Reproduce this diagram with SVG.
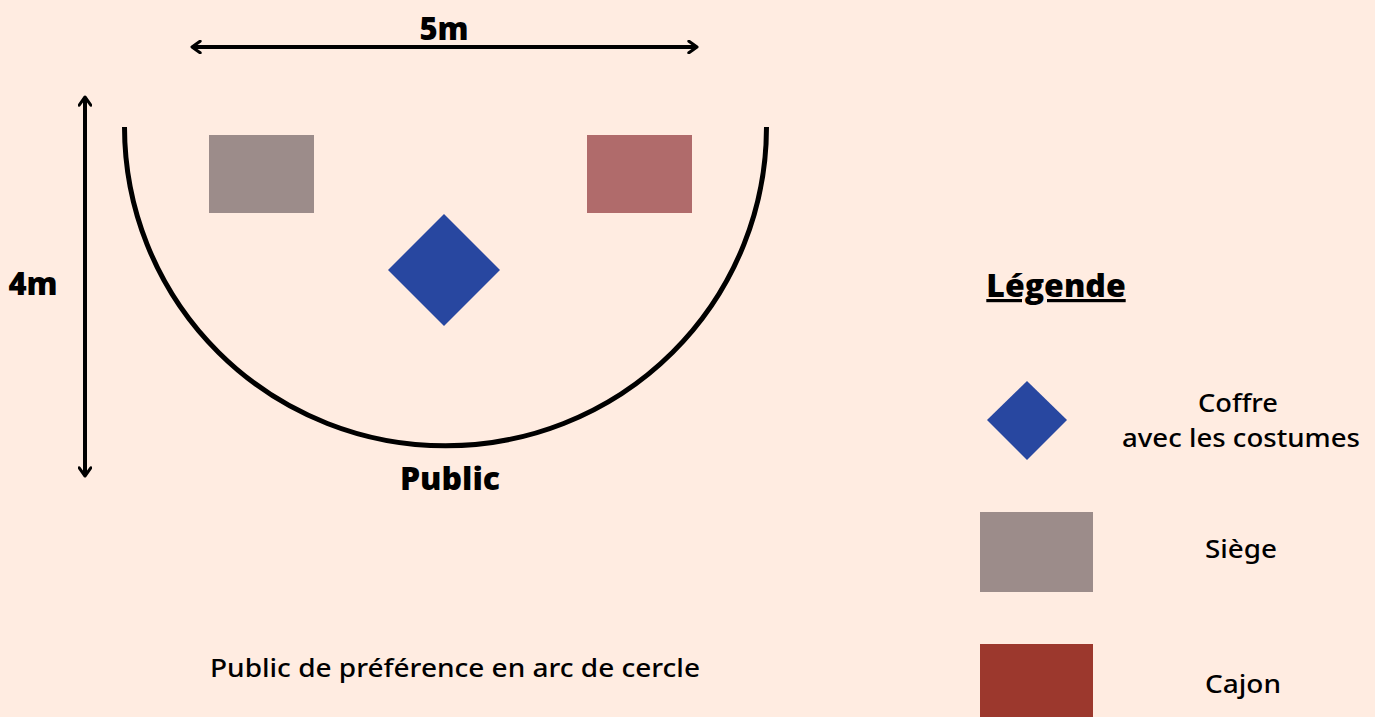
<svg xmlns="http://www.w3.org/2000/svg" width="1375" height="717" viewBox="0 0 1375 717">
<style>
.bold{font-family:"Open Sans","Noto Sans",sans-serif;font-weight:800;fill:#000}
.reg{font-family:"Noto Sans","Open Sans",sans-serif;font-weight:500;fill:#000;font-size:26px}
.dim{stroke:#000;stroke-width:4;fill:none}
</style>
<defs>
<marker id="ah" viewBox="0 0 12 12" refX="9" refY="6" markerWidth="3.5" markerHeight="3.5" orient="auto-start-reverse" markerUnits="strokeWidth">
<polyline points="2,1 9,6 2,11" fill="none" stroke="#000" stroke-width="2.6" stroke-linecap="round" stroke-linejoin="round"/>
</marker>
</defs>
<rect width="1375" height="717" fill="#FFECE1"/>
<g id="connectors">
<line class="dim" x1="192" y1="47" x2="697" y2="47" marker-start="url(#ah)" marker-end="url(#ah)"/>
<line class="dim" x1="85" y1="97" x2="85" y2="476" marker-start="url(#ah)" marker-end="url(#ah)"/>
</g>
<g id="scene">
<path d="M124.5,127 A321,319 0 0 0 766.5,127" fill="none" stroke="#000" stroke-width="5"/>
</g>
<g id="siege"><rect x="209" y="135" width="105" height="78" fill="#9C8C8A"/></g>
<g id="cajon"><rect x="587" y="135" width="105" height="78" fill="#B06B6B"/></g>
<g id="coffre"><polygon points="444,214 500,270 444,326 388,270" fill="#2847A0"/></g>
<g id="labels">
<text class="bold" x="444" y="40" font-size="31" text-anchor="middle">5m</text>
<text class="bold" x="33" y="295" font-size="31" text-anchor="middle">4m</text>
<text class="bold" x="450" y="490" font-size="32" text-anchor="middle">Public</text>
<text class="reg" x="455" y="677" text-anchor="middle" textLength="490" lengthAdjust="spacingAndGlyphs">Public de préférence en arc de cercle</text>
</g>
<g id="legend">
<text class="bold" x="1056" y="297" font-size="32" text-anchor="middle" text-decoration="underline">Légende</text>
<polygon points="1027,381 1067,420 1027,460 987,420" fill="#2847A0"/>
<text class="reg" x="1238" y="412" text-anchor="middle" textLength="80" lengthAdjust="spacingAndGlyphs">Coffre</text>
<text class="reg" x="1241" y="447" text-anchor="middle" textLength="238" lengthAdjust="spacingAndGlyphs">avec les costumes</text>
<rect x="980" y="512" width="113" height="80" fill="#9C8C8A"/>
<text class="reg" x="1241" y="558" text-anchor="middle" textLength="72" lengthAdjust="spacingAndGlyphs">Siège</text>
<rect x="980" y="644" width="113" height="73" fill="#9C382D"/>
<text class="reg" x="1243" y="693" text-anchor="middle" textLength="76" lengthAdjust="spacingAndGlyphs">Cajon</text>
</g>
</svg>
